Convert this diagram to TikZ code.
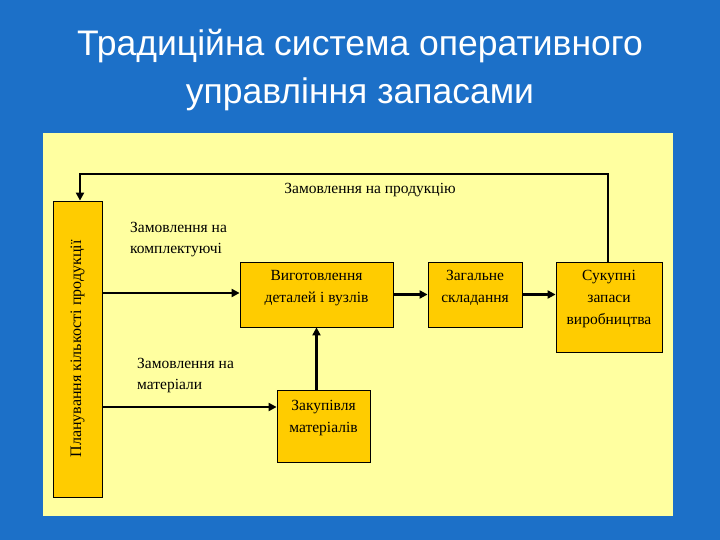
\documentclass[tikz,border=0pt]{standalone}
\usepackage{fontspec}
\setmainfont{Liberation Serif}
\newfontfamily\titlefont{Liberation Sans}
\usetikzlibrary{arrows.meta}
\definecolor{slide}{RGB}{28,112,200}
\definecolor{panel}{RGB}{255,255,160}
\definecolor{boxc}{RGB}{255,204,0}
\begin{document}
\begin{tikzpicture}[x=1pt,y=-1pt,
  box/.style={draw=black,fill=boxc,line width=0.8pt,inner sep=0pt},
  bt/.style={anchor=north,align=center,inner sep=0pt,font=\fontsize{15.5}{22}\selectfont},
  lbl/.style={font=\fontsize{15.5}{21}\selectfont,align=left,inner sep=0pt},
  arr/.style={line width=2.2pt,-{Triangle[length=8pt,width=8pt]}}]
\useasboundingbox (0,0) rectangle (720,540);
\fill[slide] (0,0) rectangle (720,540);
\node[text=white,font=\titlefont\fontsize{35.5}{48}\selectfont,align=center] (title) at (360,70) {Традиційна система оперативного\\управління запасами};
\fill[panel] (43,133) rectangle (673,516);
\node[box,minimum width=49pt,minimum height=296pt] (plan) at (77.5,349) {};
\node[rotate=90,font=\fontsize{16}{19}\selectfont] (plant) at (plan.center) {Планування кількості продукції};
\node[box,minimum width=153pt,minimum height=65pt] (vyg) at (316.5,294.5) {};
\node[box,minimum width=94pt,minimum height=65pt] (zag) at (475,294.5) {};
\node[box,minimum width=106pt,minimum height=90pt] (suk) at (609,307) {};
\node[box,minimum width=93pt,minimum height=72pt] (zak) at (323.5,426) {};
\node[bt] (vygt) at (316.5,270) {Виготовлення\\деталей і вузлів};
\node[bt] (zagt) at (475,270) {Загальне\\складання};
\node[bt] (sukt) at (609,270) {Сукупні\\запаси\\виробництва};
\node[bt] (zakt) at (323.5,400) {Закупівля\\матеріалів};
\coordinate (c1) at (608,174);
\coordinate (c2) at (80,174);
\draw[arr] (suk.north -| c1) -- (c1) -- (c2) -- (plan.north -| c2);
\draw[arr] (plan.east |- 0,293) -- (vyg.west |- 0,293);
\draw[arr] (vyg.east) -- (zag.west);
\draw[arr] (zag.east) -- (suk.west |- zag.east);
\draw[arr] (plan.east |- 0,407) -- (zak.west |- 0,407);
\draw[arr] (zak.north -| vyg.south) -- (vyg.south);
\node[lbl] (l1) at (370,190) {Замовлення на продукцію};
\node[lbl,anchor=north west] (l2) at (130,222) {Замовлення на\\комплектуючі};
\node[lbl,anchor=north west] (l3) at (137,358) {Замовлення на\\матеріали};
\end{tikzpicture}
\end{document}
